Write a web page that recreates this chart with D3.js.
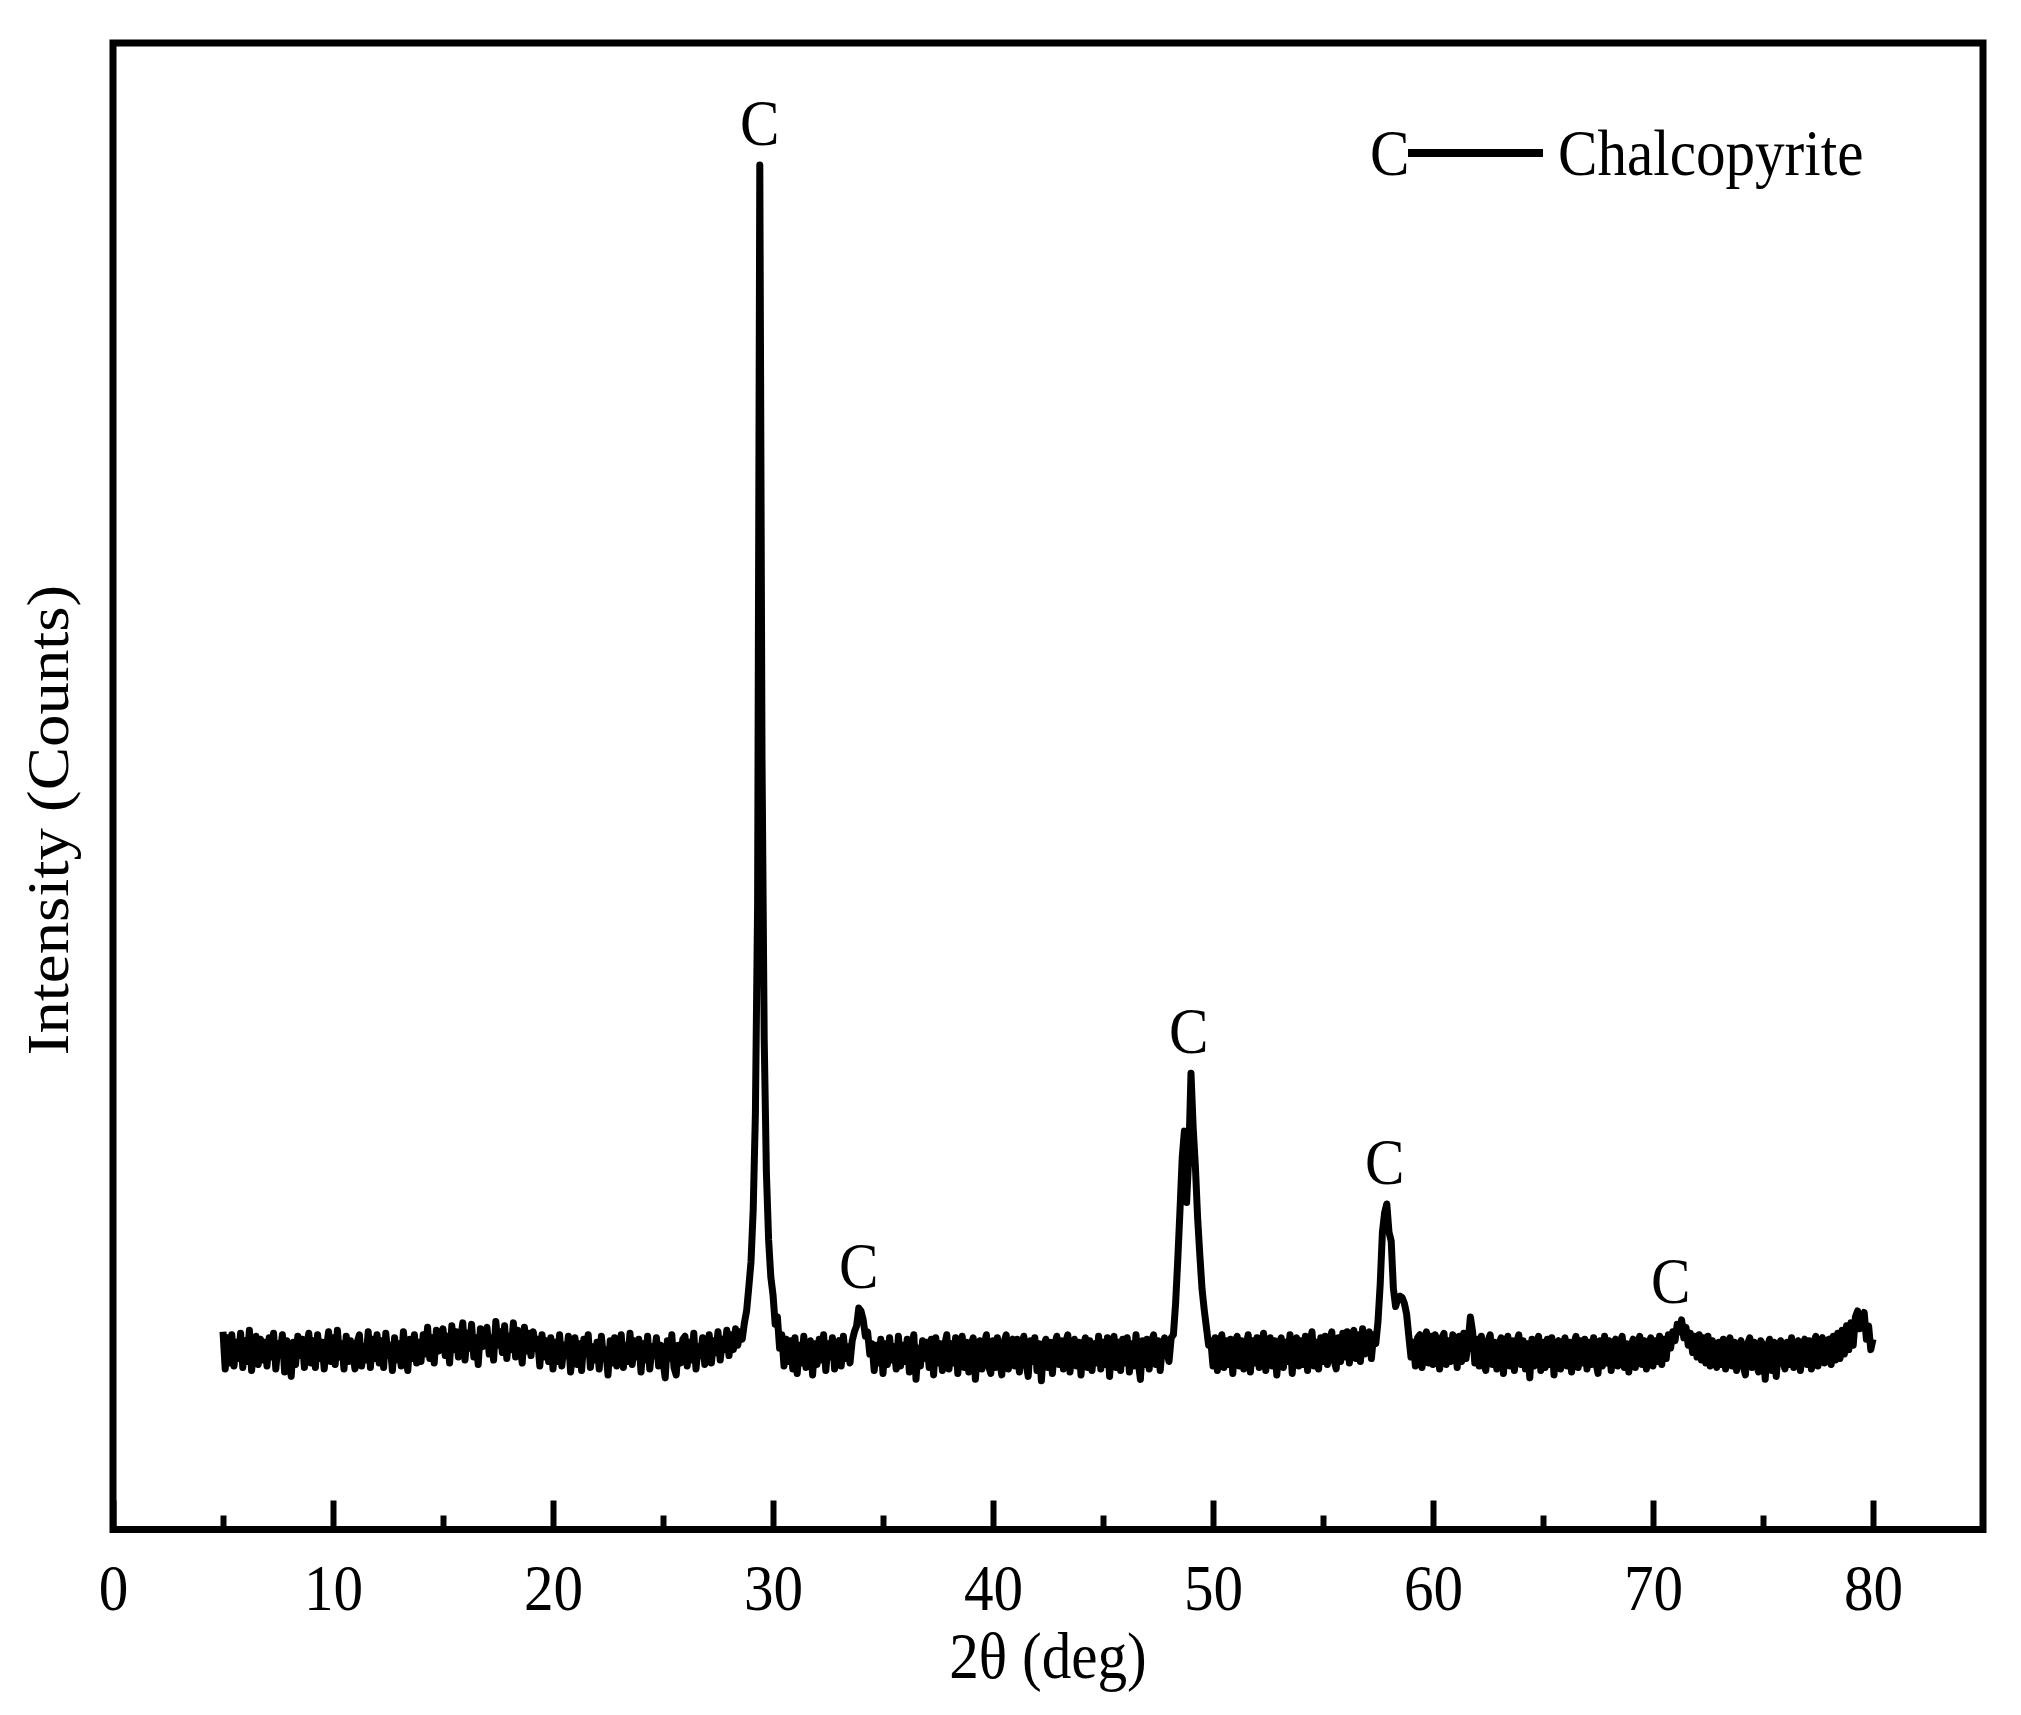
<!DOCTYPE html>
<html>
<head>
<meta charset="utf-8">
<script src="https://cdn.jsdelivr.net/npm/d3@7"></script>
<style>
  body { margin: 0; background: #fff; }
  text { font-family: "Liberation Serif", "Times New Roman", serif; fill: #000; }
</style>
</head>
<body>
<svg id="chart"></svg>
<script>
// XRD scan: 2theta from 5 to 80 deg, one value every 0.1 deg
const scanStart = 5;
const scanStep = 0.1;
const counts = [
  133,108,129,112,131,110,126,115,132,109, // 5
  127,113,134,107,124,130,111,128,114,126, // 6
  110,129,116,132,108,125,119,131,106,127, // 7
  114,103,126,111,130,117,128,109,124,132, // 8
  112,127,109,131,115,126,108,122,133,113, // 9
  129,111,134,116,125,108,130,113,127,118, // 10
  108,126,131,110,123,114,133,109,128,115, // 11
  131,112,127,109,132,117,124,107,129,114, // 12
  125,110,133,118,107,128,115,131,112,126, // 13
  113,131,118,136,115,129,112,134,120,128, // 14
  135,117,130,112,137,121,133,116,128,139, // 15
  114,132,122,138,116,129,111,135,123,131, // 16
  136,118,129,114,140,124,133,119,137,115, // 17
  130,121,139,116,134,125,112,136,120,132, // 18
  117,133,122,128,110,131,116,127,113,129, // 19
  108,126,113,131,110,124,117,130,106,122, // 20
  129,111,125,107,128,118,131,109,123,114, // 21
  126,108,130,115,121,104,127,112,129,110, // 22
  118,131,109,124,113,132,111,127,116,128, // 23
  106,125,114,130,108,123,117,129,110,124, // 24
  113,102,127,115,131,109,104,124,112,128, // 25
  130,110,126,114,132,108,123,117,129,111, // 26
  116,131,112,127,119,133,114,128,121,134, // 27
  117,131,121,135,124,133,128,139,147,163, // 28
  180,215,280,420,918,520,330,240,195,170, // 29
  158,138,143,122,131,110,128,113,127,108, // 30
  129,105,124,112,130,109,122,127,104,125, // 31
  111,128,114,131,107,125,116,129,108,124, // 32
  127,110,130,115,123,112,127,133,137,149, // 33
  147,141,130,133,118,125,107,124,112,128, // 34
  105,125,111,129,114,123,108,130,110,124, // 35
  113,128,106,124,131,101,122,110,127,115, // 36
  126,109,128,104,129,112,125,107,124,131, // 37
  108,125,112,129,105,123,130,109,126,106, // 38
  124,129,101,121,127,108,125,131,110,105, // 39
  127,109,129,113,104,126,131,108,124,128, // 40
  110,128,106,124,130,112,103,127,113,129, // 41
  107,125,100,123,128,109,126,105,124,130, // 42
  111,127,108,126,131,106,123,128,110,126, // 43
  104,124,129,109,127,107,125,112,130,108, // 44
  126,111,129,103,125,130,109,126,107,128, // 45
  112,129,106,125,110,131,113,101,127,111, // 46
  128,108,126,131,111,127,107,124,129,119, // 47
  113,129,131,152,182,215,250,268,220,252, // 48
  307,270,244,210,185,162,148,136,124,127, // 49
  110,129,107,125,131,109,127,111,128,105, // 50
  126,130,110,127,108,124,131,106,127,112, // 51
  129,109,125,132,107,123,129,110,127,104, // 52
  124,129,109,126,113,131,105,125,129,110, // 53
  127,111,130,107,125,133,110,126,108,129, // 54
  113,130,111,127,133,114,108,129,113,132, // 55
  116,133,112,129,134,115,131,113,135,118, // 56
  128,133,115,131,125,140,165,200,213,219, // 57
  200,194,162,150,155,157,156,152,145,130, // 58
  116,126,110,129,131,109,127,133,112,130, // 59
  111,131,126,108,129,132,111,127,113,131, // 60
  126,109,130,113,132,115,127,143,133,112, // 61
  128,110,130,112,107,127,131,111,126,108, // 62
  125,129,105,124,130,110,127,107,126,131, // 63
  111,127,108,125,102,128,110,126,130,107, // 64
  126,109,128,111,129,104,125,127,108,124, // 65
  129,110,126,106,125,130,109,127,112,128, // 66
  108,126,111,129,113,105,127,110,130,112, // 67
  127,107,125,128,110,126,130,109,125,106, // 68
  124,128,109,126,130,111,127,108,125,129, // 69
  110,127,113,130,111,128,115,131,122,133, // 70
  127,138,133,141,129,136,124,132,119,130, // 71
  116,131,114,129,112,130,110,127,113,109, // 72
  126,111,128,108,125,129,110,126,107,124, // 73
  127,110,104,125,129,109,126,111,106,127, // 74
  124,101,123,128,107,126,103,122,127,113, // 75
  108,126,111,129,109,125,127,107,124,128, // 76
  111,127,108,125,130,110,126,129,112,127, // 77
  128,111,130,114,132,115,134,118,137,121, // 78
  139,124,143,147,135,142,146,128,137,121, // 79
  128                                      // 80
];

// peaks marked "C" (chalcopyrite)
const peakTheta = [29.4, 33.9, 48.9, 57.8, 70.8];
const peakCounts = [918, 149, 307, 219, 139];
const peakNames = ["C", "C", "C", "C", "C"];

const majorTicks = [0, 10, 20, 30, 40, 50, 60, 70, 80];
const minorTicks = [5, 15, 25, 35, 45, 55, 65, 75];

const xTitle = "2θ (deg)";
const yTitle = "Intensity (Counts)";
const legendSymbol = "C";
const legendName = "Chalcopyrite";

var width = 2021;
var height = 1715;
var frame = { left: 113, right: 1983, top: 43, bottom: 1529.5 };
var squeeze = "scale(0.91,1)"; // glyphs in the figure are a bit narrow

var scan = counts.map(function (c, i) {
  return { t: scanStart + i * scanStep, c: c };
});

var x = d3.scaleLinear().domain([0, 85]).range([frame.left, frame.right]);
var y = d3.scaleLinear().domain([0, 1000]).range([frame.bottom, frame.top]);

var svg = d3.select("#chart").attr("width", width).attr("height", height);

svg.append("rect")
  .attr("width", width)
  .attr("height", height)
  .attr("fill", "#fff");

// pattern
var line = d3.line()
  .x(function (d) { return x(d.t); })
  .y(function (d) { return y(d.c); });

svg.append("path")
  .datum(scan)
  .attr("d", line)
  .attr("fill", "none")
  .attr("stroke", "#000")
  .attr("stroke-width", 7)
  .attr("stroke-linejoin", "round");

// ticks (inward)
svg.append("g")
  .attr("transform", "translate(0," + frame.bottom + ")")
  .call(d3.axisBottom(x).tickValues(minorTicks).tickSize(-14).tickFormat(""))
  .call(function (g) { g.select(".domain").remove(); })
  .selectAll("line")
  .attr("stroke", "#000")
  .attr("stroke-width", 6);

var xAxis = svg.append("g")
  .attr("transform", "translate(0," + frame.bottom + ")")
  .call(d3.axisBottom(x).tickValues(majorTicks).tickSize(-29).tickPadding(34));

xAxis.select(".domain").remove();
xAxis.selectAll("line").attr("stroke", "#000").attr("stroke-width", 6);
xAxis.selectAll("text")
  .style("font-size", "65px")
  .attr("transform", squeeze);

// frame
svg.append("rect")
  .attr("x", frame.left)
  .attr("y", frame.top)
  .attr("width", frame.right - frame.left)
  .attr("height", frame.bottom - frame.top)
  .attr("fill", "none")
  .attr("stroke", "#000")
  .attr("stroke-width", 7);

// axis titles
svg.append("text")
  .attr("transform", "translate(" + (frame.left + frame.right) / 2 + ",1678)" + squeeze)
  .attr("text-anchor", "middle")
  .style("font-size", "65px")
  .text(xTitle);

svg.append("text")
  .attr("transform", "translate(68,820)rotate(-90)scale(1.1,1)")
  .attr("text-anchor", "middle")
  .style("font-size", "59px")
  .text(yTitle);

// peak labels
svg.selectAll(".peak")
  .data(peakTheta)
  .enter()
  .append("text")
  .attr("class", "peak")
  .attr("transform", function (d, i) {
    return "translate(" + x(d) + "," + (y(peakCounts[i]) - 20) + ")" + squeeze;
  })
  .attr("text-anchor", "middle")
  .style("font-size", "65px")
  .text(function (d, i) { return peakNames[i]; });

// legend
svg.append("text")
  .attr("transform", "translate(1370,175)" + squeeze)
  .style("font-size", "65px")
  .text(legendSymbol);

svg.append("line")
  .attr("x1", 1408)
  .attr("x2", 1543)
  .attr("y1", 153)
  .attr("y2", 153)
  .attr("stroke", "#000")
  .attr("stroke-width", 8);

svg.append("text")
  .attr("transform", "translate(1558,175)" + squeeze)
  .style("font-size", "65px")
  .text(legendName);
</script>
</body>
</html>
